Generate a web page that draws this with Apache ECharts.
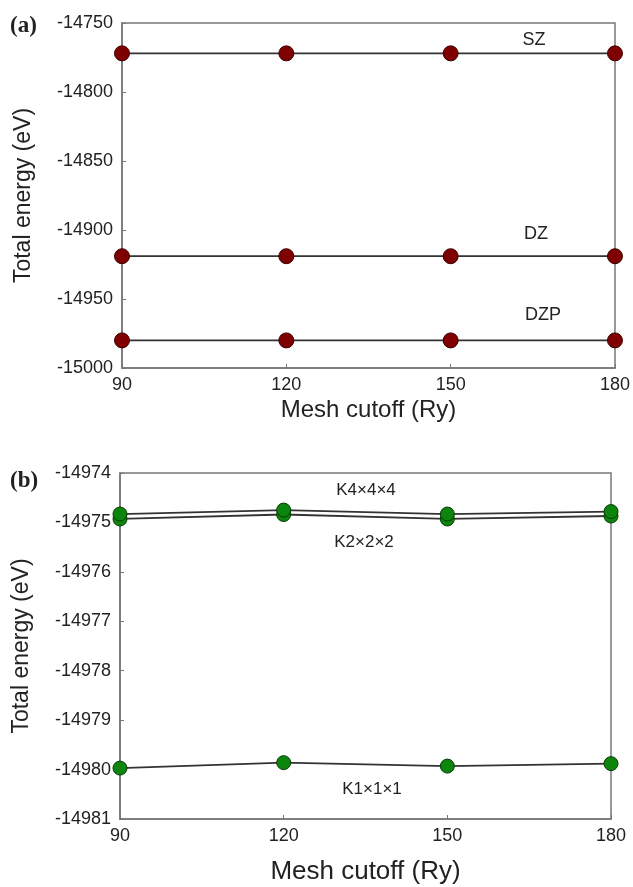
<!DOCTYPE html>
<html>
<head>
<meta charset="utf-8">
<script src="https://cdn.jsdelivr.net/npm/echarts@6/dist/echarts.min.js"></script>
<style>
  html, body { margin: 0; padding: 0; background: #fff; }
  #chart { width: 633px; height: 887px; }
</style>
</head>
<body>
<div id="chart"></div>
<script>
// ---- data ----
const meshCutoff = [90, 120, 150, 180];
// panel (a): basis sets
const SZ  = [-14772, -14772, -14772, -14772];
const DZ  = [-14919, -14919, -14919, -14919];
const DZP = [-14980, -14980, -14980, -14980];
// panel (b): k-point grids
const K4 = [-14974.83, -14974.75, -14974.83, -14974.78];
const K2 = [-14974.93, -14974.84, -14974.93, -14974.87];
const K1 = [-14979.97, -14979.86, -14979.93, -14979.88];
// axis ticks
const xTicks = [90, 120, 150, 180];
const yTicksA = [-15000, -14950, -14900, -14850, -14800, -14750];
const yTicksB = [-14981, -14980, -14979, -14978, -14977, -14976, -14975, -14974];

const pairs = (xs, ys) => xs.map((x, i) => [x, ys[i]]);

const FONT = 'Liberation Sans, Arial, sans-serif';
const axisColor = '#777';

function xAxisCfg(gridIndex, nameSize, nameGap) {
  return {
    type: 'value', gridIndex,
    min: xTicks[0], max: xTicks[xTicks.length - 1], interval: 30,
    name: 'Mesh cutoff (Ry)', nameLocation: 'middle', nameGap,
    nameTextStyle: { fontFamily: FONT, fontSize: nameSize, color: '#222' },
    axisLine: { show: true, lineStyle: { color: axisColor, width: 1.5 } },
    axisTick: { show: true, inside: true, length: 4, lineStyle: { color: axisColor } },
    axisLabel: { fontFamily: FONT, fontSize: 18, color: '#222', margin: 8, formatter: v => String(v) },
    splitLine: { show: false }
  };
}
function yAxisCfg(gridIndex, ticks, interval) {
  return {
    type: 'value', gridIndex,
    min: ticks[0], max: ticks[ticks.length - 1], interval,
    name: 'Total energy (eV)', nameLocation: 'middle', nameGap: 87,
    nameTextStyle: { fontFamily: FONT, fontSize: 23, color: '#222' },
    axisLine: { show: true, lineStyle: { color: axisColor, width: 1.5 } },
    axisTick: { show: true, inside: true, length: 4, lineStyle: { color: axisColor } },
    axisLabel: { fontFamily: FONT, fontSize: 18, color: '#222', margin: 9, formatter: v => String(v) },
    splitLine: { show: false }
  };
}
function lineSeries(data, xi, color, border, lineColor, size) {
  return {
    type: 'line', xAxisIndex: xi, yAxisIndex: xi,
    data, symbol: 'circle', symbolSize: size,
    lineStyle: { color: lineColor, width: 1.8 },
    itemStyle: { color, borderColor: border, borderWidth: 1 },
    z: 3, animation: false
  };
}

const chart = echarts.init(document.getElementById('chart'));
chart.setOption({
  backgroundColor: '#fff',
  animation: false,
  grid: [
    { left: 122, right: 17, top: 23, height: 345, show: true, borderColor: axisColor, borderWidth: 1.5 },
    { left: 120, right: 22, top: 473, height: 346, show: true, borderColor: axisColor, borderWidth: 1.5 }
  ],
  xAxis: [xAxisCfg(0, 24, 30), xAxisCfg(1, 26, 40)],
  yAxis: [yAxisCfg(0, yTicksA, 50), yAxisCfg(1, yTicksB, 1)],
  series: [
    lineSeries(pairs(meshCutoff, SZ), 0, '#7f0000', '#3a0000', '#333', 15),
    lineSeries(pairs(meshCutoff, DZ), 0, '#7f0000', '#3a0000', '#333', 15),
    lineSeries(pairs(meshCutoff, DZP), 0, '#7f0000', '#3a0000', '#333', 15),
    lineSeries(pairs(meshCutoff, K2), 1, '#0b850b', '#0a3a0a', '#333', 14),
    lineSeries(pairs(meshCutoff, K4), 1, '#0b850b', '#0a3a0a', '#333', 14),
    lineSeries(pairs(meshCutoff, K1), 1, '#0b850b', '#0a3a0a', '#333', 14)
  ],
  graphic: [
    { type: 'text', left: 10, top: 15, style: { text: '(a)', font: 'bold 23px "Liberation Serif", "Times New Roman", serif', fill: '#222' } },
    { type: 'text', left: 10, top: 470, style: { text: '(b)', font: 'bold 23px "Liberation Serif", "Times New Roman", serif', fill: '#222' } },
    { type: 'text', x: 534, y: 40, style: { text: 'SZ', font: '18px ' + FONT, fill: '#222', align: 'center', verticalAlign: 'middle' } },
    { type: 'text', x: 536, y: 234, style: { text: 'DZ', font: '18px ' + FONT, fill: '#222', align: 'center', verticalAlign: 'middle' } },
    { type: 'text', x: 543, y: 315, style: { text: 'DZP', font: '18px ' + FONT, fill: '#222', align: 'center', verticalAlign: 'middle' } },
    { type: 'text', x: 366, y: 490, style: { text: 'K4×4×4', font: '17px ' + FONT, fill: '#222', align: 'center', verticalAlign: 'middle' } },
    { type: 'text', x: 364, y: 542, style: { text: 'K2×2×2', font: '17px ' + FONT, fill: '#222', align: 'center', verticalAlign: 'middle' } },
    { type: 'text', x: 372, y: 789, style: { text: 'K1×1×1', font: '17px ' + FONT, fill: '#222', align: 'center', verticalAlign: 'middle' } }
  ]
});
</script>
</body>
</html>
